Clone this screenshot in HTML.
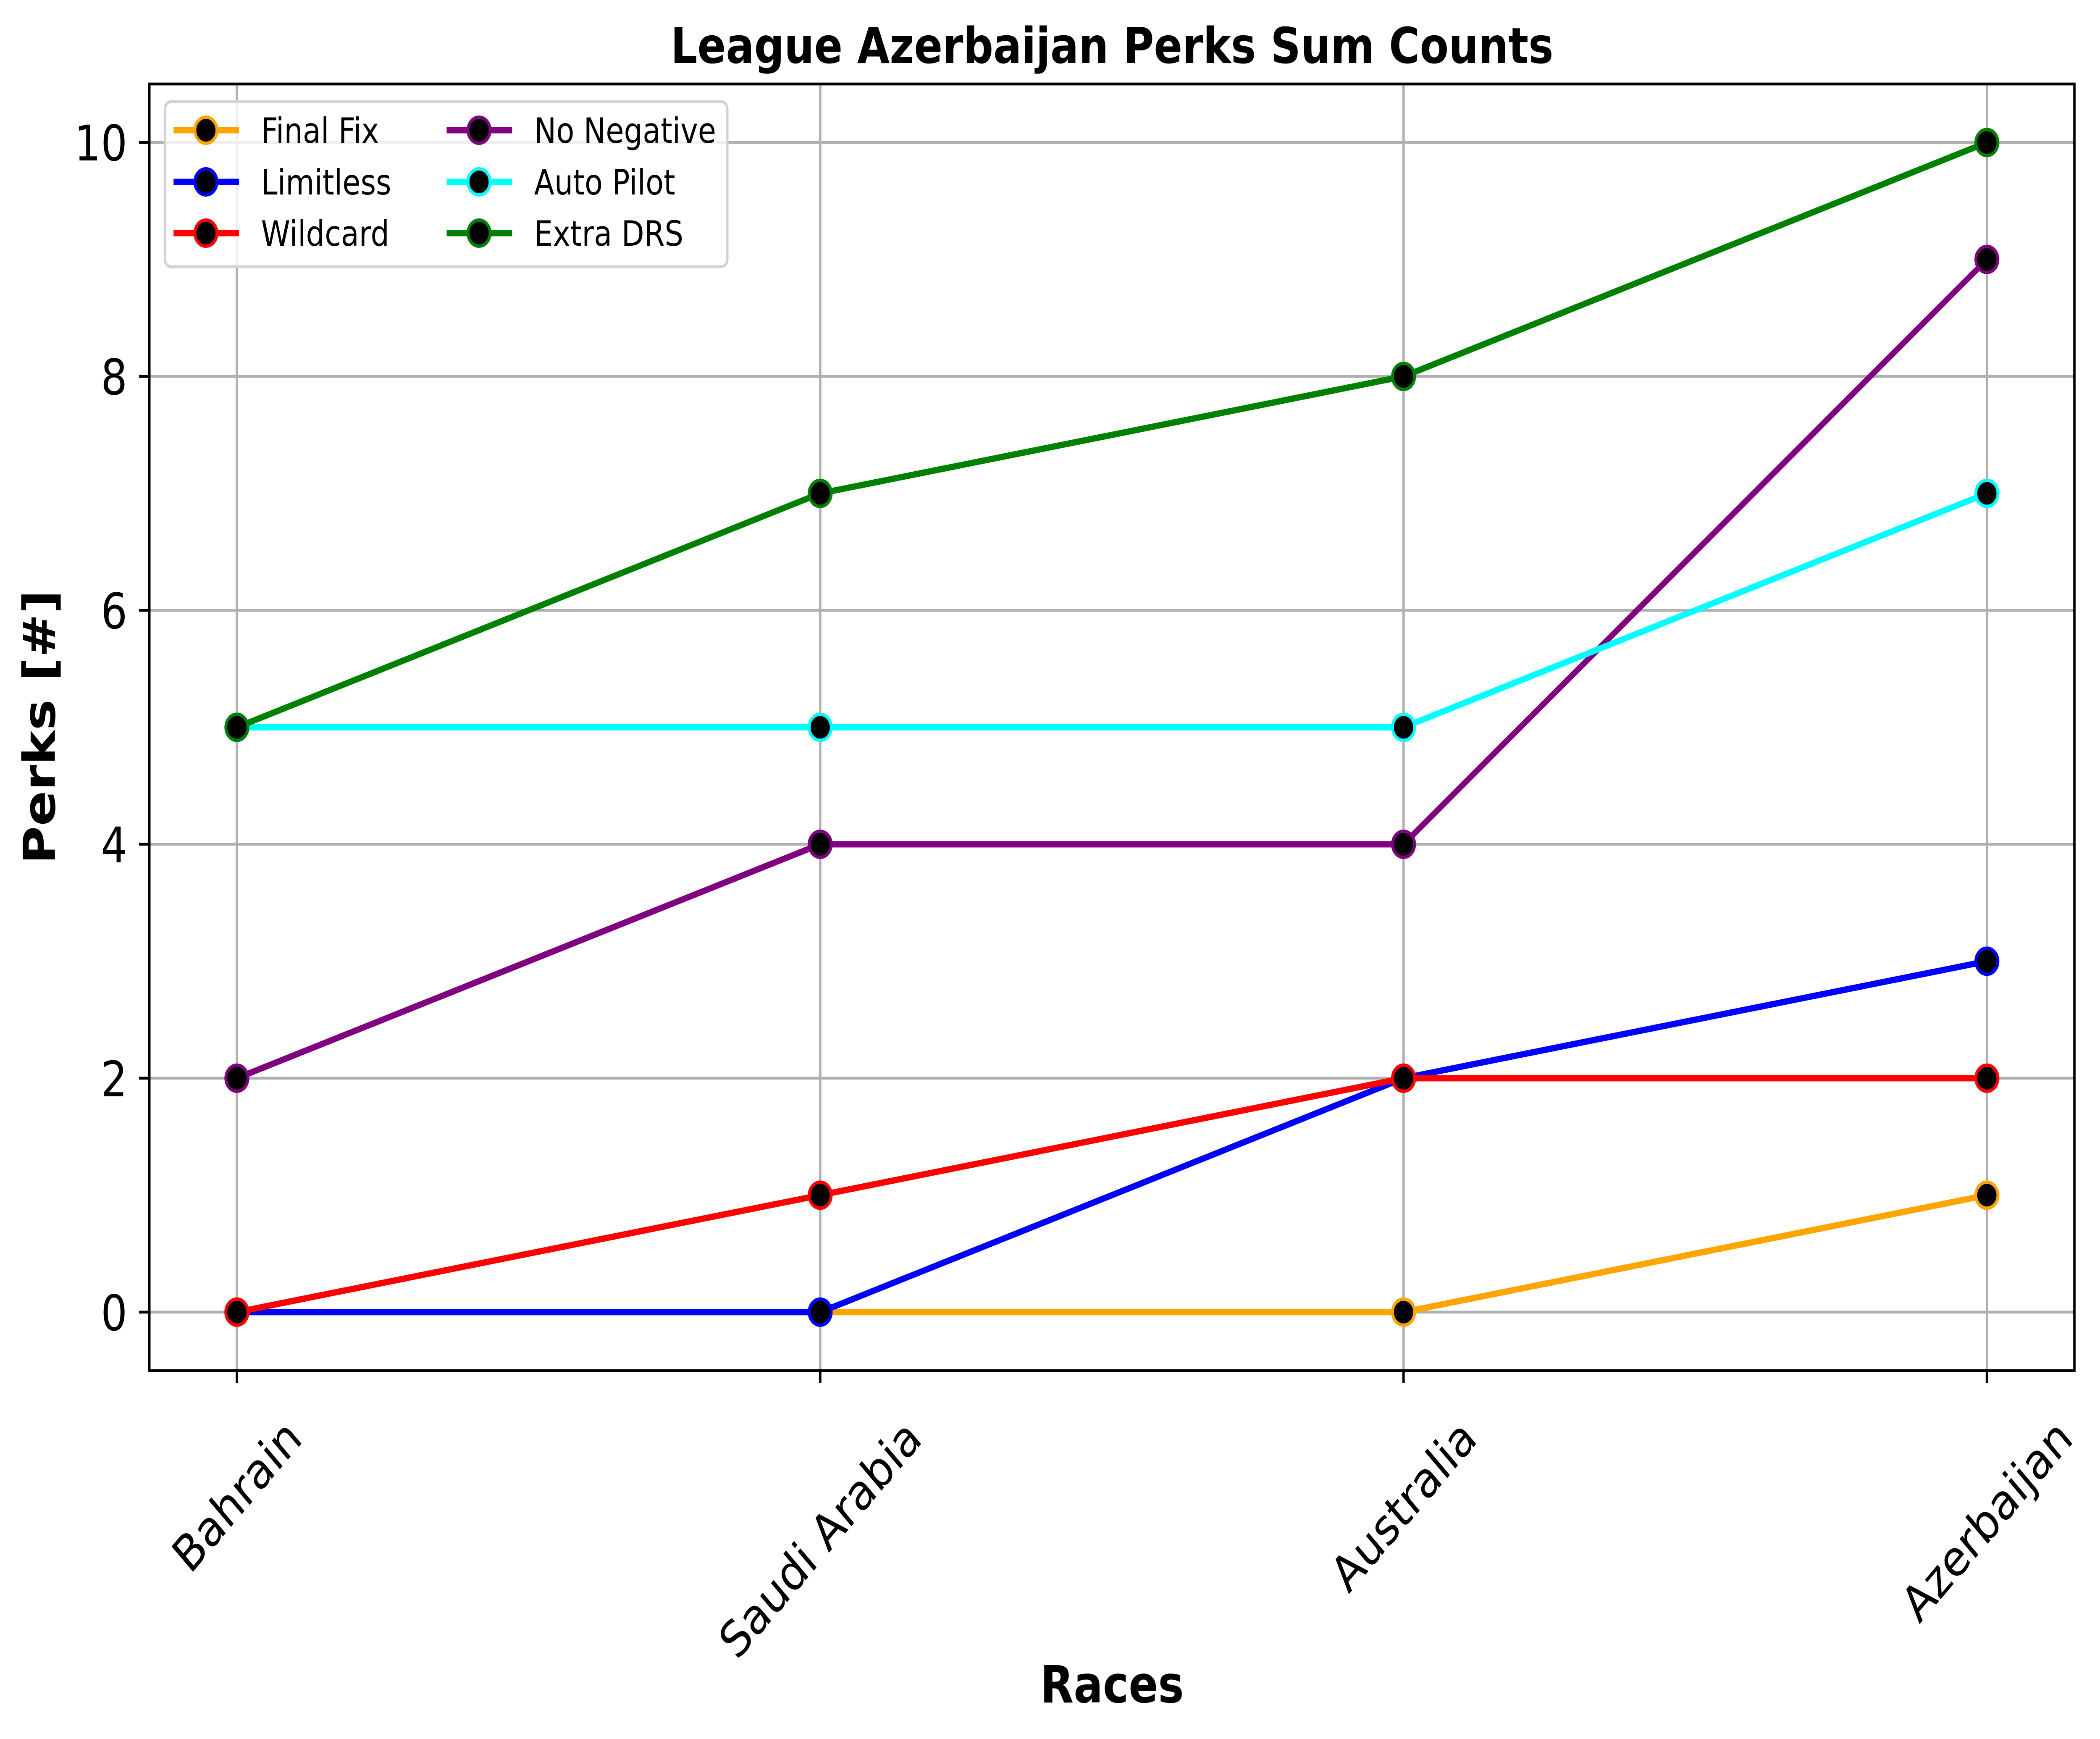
<!DOCTYPE html>
<html><head><meta charset="utf-8"><style>
html,body{margin:0;padding:0;background:#fff;width:100%;height:100%;overflow:hidden;}
svg{display:block;position:fixed;left:0;top:0;width:100vw;height:100vh;font-family:"DejaVu Sans","Liberation Sans",sans-serif;}
</style></head><body>
<svg id="chart" viewBox="0 0 5905 4140" preserveAspectRatio="none" xmlns="http://www.w3.org/2000/svg">
<rect width="5905" height="4140" fill="#fff"/>
<g id="grid"></g>
<g id="series"></g>
<g id="axes"></g>
<g id="legend"></g>
<text x="3127" y="150" text-anchor="middle" font-size="118" font-weight="bold">League Azerbaijan Perks Sum Counts</text>
<text x="3127" y="4053" text-anchor="middle" font-size="122" font-weight="bold">Races</text>
<text transform="translate(154,1731) rotate(-90)" text-anchor="middle" font-size="124" font-weight="bold">Perks [#]</text>
</svg>
<script>
const categories = ["Bahrain", "Saudi Arabia", "Australia", "Azerbaijan"];
const seriesNames = ["Final Fix", "Limitless", "Wildcard", "No Negative", "Auto Pilot", "Extra DRS"];
const seriesColors = ["orange", "blue", "red", "purple", "cyan", "green"];
const finalFix = [0, 0, 0, 1];
const limitless = [0, 0, 2, 3];
const wildcard = [0, 1, 2, 2];
const noNegative = [2, 4, 4, 9];
const autoPilot = [5, 5, 5, 7];
const extraDRS = [5, 7, 8, 10];
const yTicks = [0, 2, 4, 6, 8, 10];
const yTickLabels = ["0", "2", "4", "6", "8", "10"];

const seriesValues = [finalFix, limitless, wildcard, noNegative, autoPilot, extraDRS];
const NS = "http://www.w3.org/2000/svg";
const L = 420, R = 5833, T = 200, B = 3263;
const xMin = -0.15, xMax = 3.15, yMin = -0.5, yMax = 10.5;
function xs(i){ return L + (i - xMin) / (xMax - xMin) * (R - L); }
function ys(v){ return B - (v - yMin) / (yMax - yMin) * (B - T); }
function mk(tag, attrs, parent){ const e = document.createElementNS(NS, tag); for (const k in attrs) e.setAttribute(k, attrs[k]); parent.appendChild(e); return e; }

const grid = document.getElementById('grid');
const axes = document.getElementById('axes');
const series = document.getElementById('series');
const legend = document.getElementById('legend');

categories.forEach((c, i) => {
  const g = mk('line', {x1: xs(i), x2: xs(i), y1: T, y2: B, stroke: '#b0b0b0', 'stroke-width': 6.7}, grid);
  
  
});
yTicks.forEach((v) => {
  const g = mk('line', {x1: L, x2: R, y1: ys(v), y2: ys(v), stroke: '#b0b0b0', 'stroke-width': 6.7}, grid);
  
  
});

seriesValues.forEach((vals, s) => {
  const pts = vals.map((v, i) => xs(i) + ',' + ys(v)).join(' ');
  const pl = mk('polyline', {points: pts, fill: 'none', stroke: seriesColors[s], 'stroke-width': 15, 'stroke-linejoin': 'round', 'stroke-linecap': 'square'}, series);
  
  
  vals.forEach((v, i) => {
    const c = mk('circle', {cx: xs(i), cy: ys(v), r: 31, fill: '#000', stroke: seriesColors[s], 'stroke-width': 8}, series);
    
    
  });
});

const frame = mk('rect', {x: L, y: T, width: R - L, height: B - T, fill: 'none', stroke: '#000', 'stroke-width': 6.7}, axes);



yTicks.forEach((v, k) => {
  const t = mk('line', {x1: L - 29, x2: L, y1: ys(v), y2: ys(v), stroke: '#000', 'stroke-width': 6.7}, axes);
  
  
  const lb = mk('text', {x: L - 62, y: ys(v) + 43, 'text-anchor': 'end', 'font-size': 117}, axes);
  lb.textContent = yTickLabels[k];
  
  
});

categories.forEach((c, i) => {
  const t = mk('line', {x1: xs(i), x2: xs(i), y1: B, y2: B + 29, stroke: '#000', 'stroke-width': 6.7}, axes);
  
  
  const lb = mk('text', {x: 0, y: 0, 'text-anchor': 'middle', 'dominant-baseline': 'central', 'font-size': 117}, axes);
  lb.textContent = c;
  
  
  const w = lb.getComputedTextLength();
  const h = 117 * 1.05;
  const bh = (w + h) / Math.SQRT2;
  const cy = B + 95 + bh / 2;
  lb.setAttribute('transform', 'translate(' + xs(i) + ',' + cy + ') rotate(-45)');
});

const lf = mk('rect', {x: 464, y: 242, width: 1581, height: 393, rx: 17, fill: 'rgba(255,255,255,0.8)', stroke: '#d3d3d3', 'stroke-width': 7}, legend);


const rowY = [310, 433, 555];
const colX = [488, 1256];
seriesNames.forEach((n, s) => {
  const col = Math.floor(s / 3), row = s % 3;
  const x0 = colX[col], y0 = rowY[row];
  const g = mk('g', {}, legend);
  
  
  mk('line', {x1: x0, x2: x0 + 184, y1: y0, y2: y0, stroke: seriesColors[s], 'stroke-width': 15}, g);
  mk('circle', {cx: x0 + 91, cy: y0, r: 31, fill: '#000', stroke: seriesColors[s], 'stroke-width': 8}, g);
  const t = mk('text', {x: x0 + 246, y: y0 + 30, 'font-size': 83}, g);
  t.textContent = n;
});
</script>
</body></html>
